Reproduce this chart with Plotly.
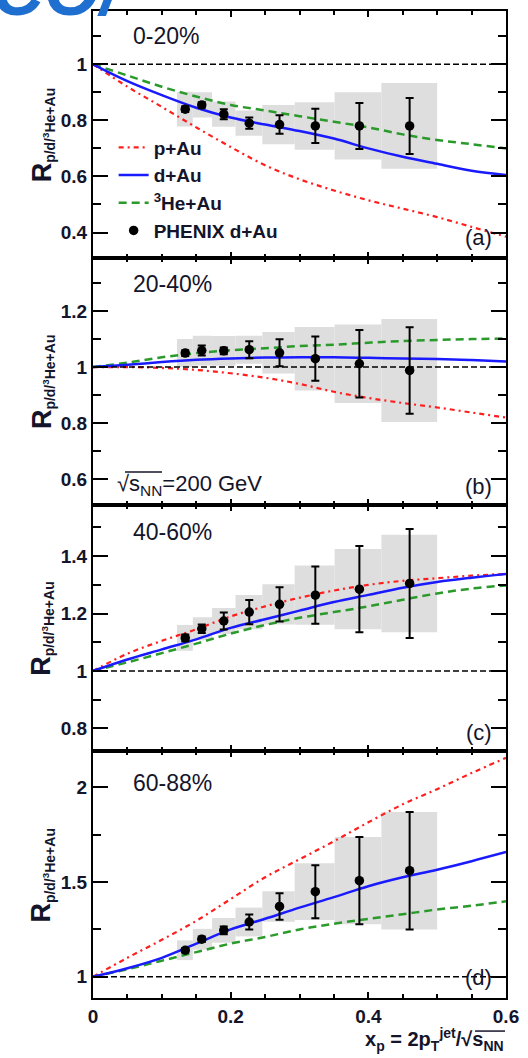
import plotly.graph_objects as go
from plotly.subplots import make_subplots

# ---------------- data ----------------
x_curve = [0, 0.05, 0.1, 0.15, 0.2, 0.25, 0.3, 0.35, 0.4, 0.45, 0.5, 0.55, 0.6]

a_pAu = [1, 0.92, 0.848, 0.775, 0.705, 0.64, 0.59, 0.55, 0.515, 0.485, 0.455, 0.42, 0.385]
a_dAu = [1, 0.94, 0.89, 0.845, 0.81, 0.785, 0.762, 0.735, 0.70, 0.67, 0.645, 0.62, 0.605]
a_HeAu = [1, 0.96, 0.92, 0.885, 0.855, 0.835, 0.815, 0.795, 0.775, 0.75, 0.73, 0.715, 0.70]

b_pAu = [1, 1.0, 0.997, 0.99, 0.978, 0.962, 0.94, 0.912, 0.89, 0.872, 0.856, 0.838, 0.82]
b_dAu = [1, 1.008, 1.018, 1.026, 1.031, 1.034, 1.035, 1.035, 1.033, 1.031, 1.029, 1.025, 1.02]
b_HeAu = [1, 1.016, 1.035, 1.05, 1.06, 1.067, 1.075, 1.08, 1.087, 1.093, 1.097, 1.1, 1.102]

c_pAu = [1, 1.06, 1.105, 1.145, 1.19, 1.225, 1.255, 1.28, 1.3, 1.314, 1.323, 1.332, 1.338]
c_dAu = [1, 1.04, 1.075, 1.11, 1.15, 1.18, 1.21, 1.24, 1.265, 1.29, 1.31, 1.325, 1.338]
c_HeAu = [1, 1.03, 1.062, 1.095, 1.13, 1.16, 1.185, 1.205, 1.225, 1.248, 1.27, 1.287, 1.298]

d_pAu = [1, 1.1, 1.195, 1.295, 1.41, 1.525, 1.62, 1.715, 1.815, 1.91, 1.99, 2.075, 2.155]
d_dAu = [1, 1.045, 1.1, 1.175, 1.25, 1.306, 1.365, 1.42, 1.478, 1.525, 1.565, 1.61, 1.658]
d_HeAu = [1, 1.04, 1.085, 1.13, 1.175, 1.21, 1.25, 1.28, 1.305, 1.33, 1.355, 1.375, 1.398]

x_data = [0.134, 0.158, 0.19, 0.227, 0.271, 0.323, 0.387, 0.46]
bin_edges = [0.122, 0.145, 0.173, 0.207, 0.246, 0.293, 0.351, 0.419, 0.50]

a_val = [0.84, 0.855, 0.822, 0.79, 0.785, 0.78, 0.78, 0.78]
a_stat = [0.01, 0.01, 0.018, 0.02, 0.033, 0.061, 0.082, 0.10]
a_sys = [0.062, 0.045, 0.045, 0.045, 0.07, 0.085, 0.12, 0.153]

b_val = [1.05, 1.059, 1.058, 1.062, 1.051, 1.03, 1.012, 0.988]
b_stat = [0.01, 0.018, 0.012, 0.03, 0.048, 0.079, 0.12, 0.154]
b_sys = [0.05, 0.053, 0.053, 0.05, 0.074, 0.113, 0.14, 0.184]

c_val = [1.115, 1.147, 1.174, 1.205, 1.232, 1.264, 1.285, 1.305]
c_stat = [0.012, 0.015, 0.03, 0.042, 0.06, 0.1, 0.15, 0.19]
c_sys = [0.045, 0.04, 0.045, 0.06, 0.07, 0.103, 0.14, 0.17]

d_val = [1.14, 1.198, 1.245, 1.289, 1.371, 1.449, 1.507, 1.56]
d_stat = [0.012, 0.015, 0.02, 0.04, 0.07, 0.14, 0.23, 0.31]
d_sys = [0.052, 0.055, 0.065, 0.076, 0.08, 0.15, 0.23, 0.31]

centrality = ["0-20%", "20-40%", "40-60%", "60-88%"]
panel_tags = ["(a)", "(b)", "(c)", "(d)"]
y_ranges = [[0.31, 1.19], [0.51, 1.39], [0.72, 1.58], [0.888, 2.19]]
y_tickvals = [[0.4, 0.6, 0.8, 1], [0.6, 0.8, 1, 1.2], [0.8, 1, 1.2, 1.4], [1, 1.5, 2]]
y_ticktext = [["0.4", "0.6", "0.8", "1"], ["0.6", "0.8", "1", "1.2"],
              ["0.8", "1", "1.2", "1.4"], ["1", "1.5", "2"]]
y_minor = [0.1, 0.1, 0.1, 0.25]
x_tickvals = [0, 0.2, 0.4, 0.6]
x_ticktext = ["0", "0.2", "0.4", "0.6"]

# ---------------- styling ----------------
FONT = "Liberation Sans, Arial, sans-serif"
TXT = "#14142a"
RED = "#ff1e1e"
BLUE = "#1a1aff"
GREEN = "#2a9a2a"
BOX = "#dedede"

fig = make_subplots(rows=4, cols=1, shared_xaxes=True, vertical_spacing=0)

curves = [(a_pAu, a_dAu, a_HeAu), (b_pAu, b_dAu, b_HeAu),
          (c_pAu, c_dAu, c_HeAu), (d_pAu, d_dAu, d_HeAu)]
vals = [a_val, b_val, c_val, d_val]
stats = [a_stat, b_stat, c_stat, d_stat]
syss = [a_sys, b_sys, c_sys, d_sys]

centers = [(bin_edges[i] + bin_edges[i + 1]) / 2 for i in range(len(bin_edges) - 1)]
widths = [bin_edges[i + 1] - bin_edges[i] for i in range(len(bin_edges) - 1)]

for i in range(4):
    row = i + 1
    first = (i == 0)
    v, st, sy = vals[i], stats[i], syss[i]
    fig.add_trace(go.Bar(x=centers, y=[2 * s for s in sy], base=[a - s for a, s in zip(v, sy)],
                         width=widths, marker=dict(color=BOX, line=dict(width=0)),
                         showlegend=False, hoverinfo="skip"), row=row, col=1)
    pA, dA, hA = curves[i]
    fig.add_trace(go.Scatter(x=x_curve, y=pA, mode="lines", name="p+Au", legendrank=1,
                             line=dict(color=RED, width=2.2, dash="5px,4px,2px,4px", shape="spline"),
                             showlegend=first), row=row, col=1)
    fig.add_trace(go.Scatter(x=x_curve, y=hA, mode="lines", name="<sup>3</sup>He+Au", legendrank=3,
                             line=dict(color=GREEN, width=2.5, dash="8px,5px", shape="spline"),
                             showlegend=first), row=row, col=1)
    fig.add_trace(go.Scatter(x=x_curve, y=dA, mode="lines", name="d+Au", legendrank=2,
                             line=dict(color=BLUE, width=2.5, shape="spline"),
                             showlegend=first), row=row, col=1)
    fig.add_trace(go.Scatter(x=x_data, y=v, mode="markers", name="PHENIX d+Au", legendrank=4,
                             marker=dict(color="black", size=9.5),
                             error_y=dict(type="data", array=st, color="black", thickness=2, width=4),
                             showlegend=first), row=row, col=1)

    sfx = "" if row == 1 else str(row)
    fig.add_shape(type="line", xref=f"x{sfx} domain", yref=f"y{sfx}", x0=0, x1=1, y0=1, y1=1,
                  line=dict(color="black", width=1.5, dash="6px,3px"), layer="above")

    fig.update_yaxes(row=row, col=1, range=y_ranges[i], tickvals=y_tickvals[i], ticktext=y_ticktext[i],
                     ticks="inside", ticklen=15, tickwidth=2, tickcolor="black",
                     minor=dict(ticks="inside", ticklen=8, tickwidth=2, dtick=y_minor[i], tick0=0,
                                tickcolor="black"),
                     showline=True, linewidth=2, linecolor="black", mirror="allticks",
                     showgrid=False, zeroline=False,
                     tickfont=dict(family=FONT, size=19, color=TXT, weight="bold"))
    fig.update_xaxes(row=row, col=1, range=[0, 0.6], tickvals=x_tickvals, ticktext=x_ticktext,
                     ticks="inside", ticklen=6, tickwidth=2, tickcolor="black",
                     minor=dict(ticks="inside", ticklen=4, tickwidth=2, dtick=0.05, tick0=0,
                                tickcolor="black"),
                     showline=True, linewidth=2, linecolor="black", mirror="allticks",
                     showgrid=False, zeroline=False, showticklabels=(row == 4),
                     tickfont=dict(family=FONT, size=19, color=TXT, weight="bold"))

    # panel annotations
    lab_y = [0.899, 0.895, 0.89, 0.872][i]
    fig.add_annotation(text=centrality[i], xref=f"x{sfx}", yref=f"y{sfx} domain", x=0.055, y=lab_y,
                       xanchor="left", yanchor="middle", showarrow=False,
                       font=dict(family=FONT, size=23, color=TXT))
    tag_y = [0.081, 0.073, 0.077, 0.085][i]
    fig.add_annotation(text=panel_tags[i], xref="paper", yref=f"y{sfx} domain", x=0.971, y=tag_y,
                       xanchor="right", yanchor="middle", showarrow=False,
                       font=dict(family=FONT, size=22, color=TXT))
    fig.add_annotation(text="<span style='font-size:27px'>R</span><sub>p/d/<sup>3</sup>He+Au</sub>",
                       xref="paper", yref=f"y{sfx} domain", x=-0.1235, y=0.5, textangle=-90,
                       xanchor="center", yanchor="middle", showarrow=False,
                       font=dict(family=FONT, size=20, color=TXT, weight="bold"))

fig.add_annotation(text="√s<sub>NN</sub>=200 GeV", xref="paper", yref="y2 domain", x=0.053, y=0.081,
                   xanchor="left", yanchor="middle", showarrow=False,
                   font=dict(family=FONT, size=22, color=TXT))
# overbar of the square root in the energy label
fig.add_shape(type="line", xref="paper", yref="paper", x0=0.0775, x1=0.167, y0=0.5329, y1=0.5329,
              line=dict(color=TXT, width=1.5))
fig.add_annotation(text="x<sub>p</sub> = 2p<sub>T</sub><sup>jet</sup>/√s<sub>NN</sub>",
                   xref="paper", yref="paper", x=1.0, y=-0.0425, xanchor="right", yanchor="middle",
                   showarrow=False, font=dict(family=FONT, size=20, color=TXT, weight="bold"))
# overbar of the square root in the x-axis title
fig.add_shape(type="line", xref="paper", yref="paper", x0=0.925, x1=0.9976, y0=-0.0335, y1=-0.0335,
              line=dict(color=TXT, width=1.5))
# cropped blue logo fragment at the top-left
fig.add_annotation(text="<i>CO/</i>", xref="paper", yref="paper", x=-0.25, y=0.979,
                   xanchor="left", yanchor="bottom", showarrow=False,
                   font=dict(family=FONT, size=72, color="#1f6fd1", weight="bold"))

fig.update_layout(
    width=528, height=1058,
    margin=dict(l=93, r=22, t=9, b=60),
    paper_bgcolor="white", plot_bgcolor="white",
    barmode="overlay",
    showlegend=True,
    legend=dict(x=0.05, y=0.881, xanchor="left", yanchor="top", bgcolor="rgba(0,0,0,0)",
                font=dict(family=FONT, size=19, color=TXT, weight="bold"),
                itemwidth=30, tracegroupgap=0, traceorder="normal"),
)

fig.write_html("out.html")
